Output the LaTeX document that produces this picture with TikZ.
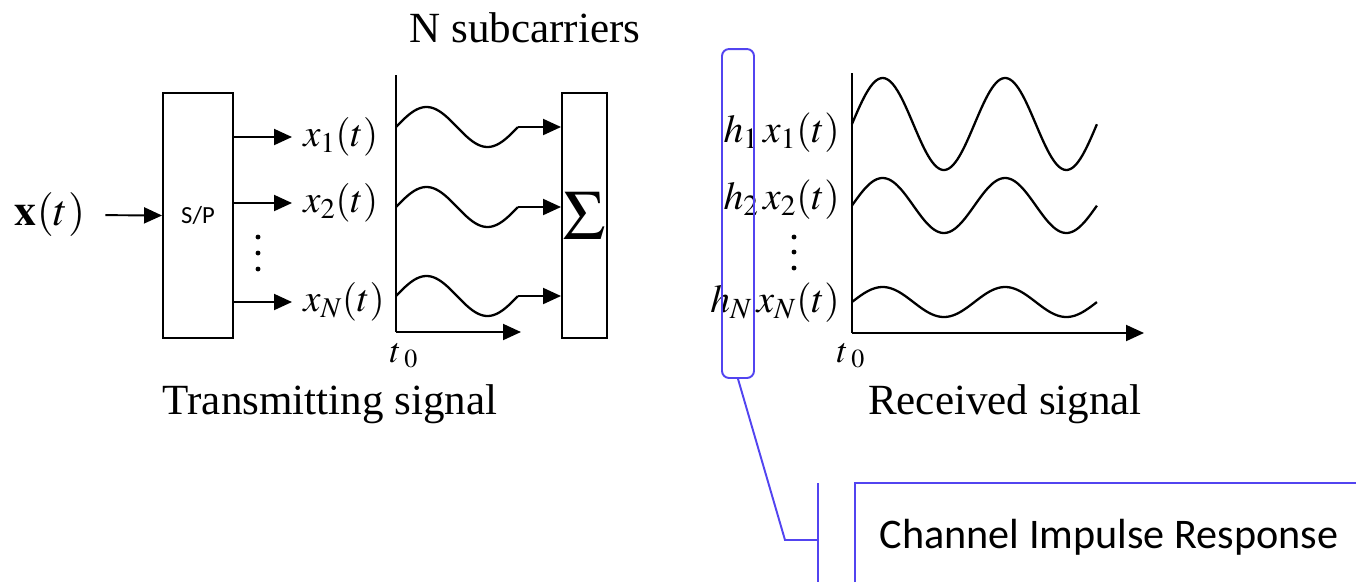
\documentclass[tikz,border=0pt]{standalone}
\usepackage{mathptmx}
\usepackage[no-math]{fontspec}
\setmainfont{Liberation Serif}
\newfontfamily\calibri{Carlito}
\usetikzlibrary{arrows.meta,positioning}
\definecolor{callblue}{RGB}{82,68,240}
\tikzset{
  blk/.style     = {draw, line width=1.1pt, minimum height=4.9cm, inner sep=0pt},
  sig/.style     = {-{Triangle[length=3.6mm,width=3.2mm]}, line width=1.1pt},
  wave/.style    = {line width=1.3pt},
  axisline/.style= {line width=1.1pt},
  lbl/.style     = {font=\fontsize{22}{26}\selectfont, inner sep=0pt},
  rlbl/.style    = {font=\fontsize{22.5}{27}\selectfont, inner sep=0pt},
  title/.style   = {font=\fontsize{24.5}{29}\selectfont, inner sep=0pt},
  chanbox/.style = {draw=callblue, line width=1.1pt, rounded corners=4pt, inner sep=0pt},
  callline/.style= {draw=callblue, line width=1.1pt},
}

\begin{document}
\begin{tikzpicture}[x=0.02cm,y=-0.02cm]
  \useasboundingbox (0,0) rectangle (1356,582);
  % transmitter
  \node[lbl,font=\fontsize{25}{30}\selectfont] (xin) at (50,215) {$\mathbf{x}(t)$};
  \node[blk,minimum width=1.4cm,font=\calibri\fontsize{14}{16}\selectfont] (spbox) at (198,215.5) {S/P};
  \draw[sig,shorten <=0.4cm] (xin.east) -- (spbox.west);
  \foreach \y/\n/\s in {137/1/1, 203/2/2, 302/3/N}{
    \node[lbl,anchor=west] (xl\n) at (303,\y) {$x_{\s}(t)$};
    \draw[sig] (spbox.east |- xl\n) -- ([xshift=-0.22cm]xl\n.west);
  }
  \foreach \y in {237,253,269} \fill (258,\y) circle (1.4pt);
  \node[blk,minimum width=0.9cm,font=\fontsize{40}{44}\selectfont] (sumbox) at (584.5,215.5) {$\Sigma$};
  \coordinate (o1) at (396,332);
  \draw[axisline] (o1) -- (396,75);
  \draw[sig] (o1) -- (521,332);
  \foreach \y/\n in {127/1, 207/2, 296/3}{
    \draw[wave] plot[domain=0:1,samples=60] ({396+122*\x},{\y-20*sin(360*\x)});
    \coordinate (w\n) at (518,\y);
    \draw[sig] (w\n) -- (w\n -| sumbox.west);
  }
  \node[lbl,font=\fontsize{20}{24}\selectfont] (t1) at (404,356) {$t_{\;0}$};
  \node[title] (nsub) at (525,28) {N subcarriers};
  \node[title] (tx) at (330,404) {Transmitting signal};
  % receiver
  \coordinate (o2) at (852,333);
  \draw[axisline] (o2) -- (852,73);
  \draw[sig] (o2) -- (1144,333);
  \foreach \y/\a in {124/46, 205.5/27.5, 302/15}
    \draw[wave] plot[domain=0:2,samples=120] ({852+122.5*\x},{\y-\a*sin(360*\x)});
  \foreach \y/\n/\s in {133/1/1, 200/2/2, 303/3/N}
    \node[rlbl,anchor=east] (hl\n) at (840,\y) {$h_{\s}\,x_{\s}(t)$};
  \foreach \y in {237,252,268} \fill (794,\y) circle (1.4pt);
  \node[lbl,font=\fontsize{20}{24}\selectfont] (t2) at (851,356) {$t_{\;0}$};
  \node[title] (rx) at (1005,404) {Received signal};
  % channel callout
  \node[chanbox,minimum width=0.64cm,minimum height=6.58cm] (chbox) at (738,213.5) {};
  \coordinate (bend) at (785,540);
  \coordinate (bartop) at (818,483);
  \coordinate (barbot) at (818,582);
  \draw[callline] (chbox.south) -- (bend) -- (bend -| bartop);
  \draw[callline] (bartop) -- (barbot);
  \draw[callline] (855,582) |- (1356,483);
  \node[font=\calibri\fontsize{24}{28}\selectfont,inner sep=0pt] (cir) at (1109,537) {Channel Impulse Response};
\end{tikzpicture}
\end{document}
